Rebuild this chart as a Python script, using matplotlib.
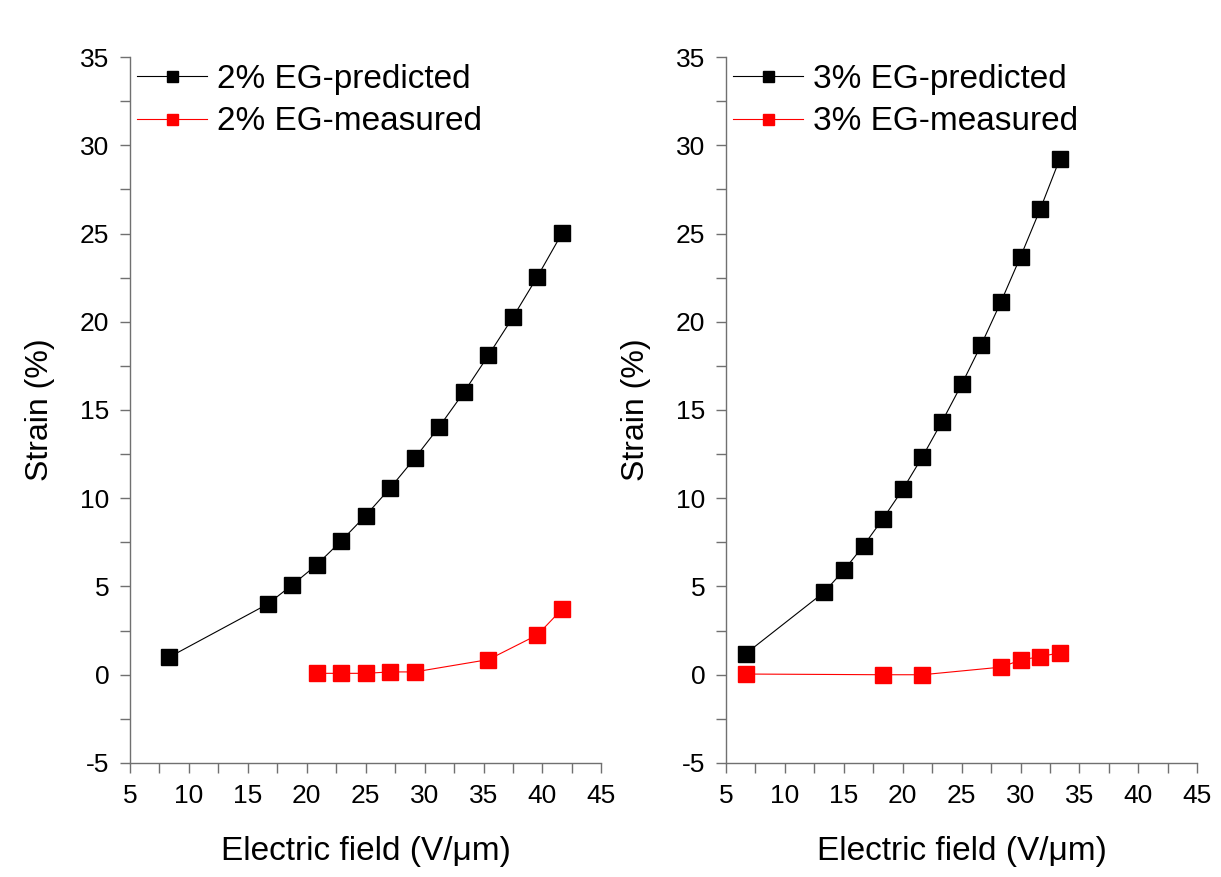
'''
Strain vs electric field: predicted vs measured, 2% and 3% EG
'''
import numpy as np
import matplotlib
matplotlib.use('Agg')
from matplotlib import pyplot as plt
from matplotlib.ticker import MultipleLocator

# 2% EG
x2_pred = [8.33, 16.67, 18.75, 20.83, 22.92, 25.0, 27.08, 29.17, 31.25, 33.33, 35.42, 37.5, 39.58, 41.67]
y2_pred = [1.0, 4.0, 5.08, 6.22, 7.58, 9.02, 10.58, 12.27, 14.06, 16.0, 18.1, 20.26, 22.56, 25.02]
x2_meas = [20.83, 22.92, 25.0, 27.08, 29.17, 35.42, 39.58, 41.67]
y2_meas = [0.08, 0.08, 0.08, 0.16, 0.16, 0.86, 2.26, 3.72]

# 3% EG
x3_pred = [6.67, 13.33, 15.0, 16.67, 18.33, 20.0, 21.67, 23.33, 25.0, 26.67, 28.33, 30.0, 31.67, 33.33]
y3_pred = [1.19, 4.68, 5.92, 7.31, 8.85, 10.5, 12.35, 14.34, 16.45, 18.71, 21.12, 23.69, 26.38, 29.23]
x3_meas = [6.67, 18.33, 21.67, 28.33, 30.0, 31.67, 33.33]
y3_meas = [0.04, 0.0, 0.0, 0.43, 0.83, 1.03, 1.24]

panels = [
    (x2_pred, y2_pred, x2_meas, y2_meas, '2% EG-predicted', '2% EG-measured'),
    (x3_pred, y3_pred, x3_meas, y3_meas, '3% EG-predicted', '3% EG-measured'),
]

plt.rcParams['font.family'] = ['Liberation Sans', 'DejaVu Sans']
plt.rcParams['axes.unicode_minus'] = False

fig = plt.figure(figsize=(12.21, 8.77), dpi=100)
lefts = [0.1065, 0.5946]
spine_col = '#707070'

for left, (xp, yp, xm, ym, lp, lm) in zip(lefts, panels):
    ax = fig.add_axes([left, 0.13, 0.386, 0.805])
    ax.plot(xp, yp, '-', color='black', lw=0.8, marker='s', ms=11,
            mfc='black', mec='black', label=lp)
    ax.plot(xm, ym, '-', color='red', lw=0.8, marker='s', ms=11,
            mfc='red', mec='red', label=lm)
    ax.set_xlim(5, 45)
    ax.set_ylim(-5, 35)
    ax.xaxis.set_major_locator(MultipleLocator(5))
    ax.xaxis.set_minor_locator(MultipleLocator(2.5))
    ax.yaxis.set_major_locator(MultipleLocator(5))
    ax.yaxis.set_minor_locator(MultipleLocator(2.5))
    for s in ['top', 'right']:
        ax.spines[s].set_visible(False)
    for s in ['left', 'bottom']:
        ax.spines[s].set_color(spine_col)
        ax.spines[s].set_linewidth(1.0)
    ax.tick_params(which='both', direction='out', color=spine_col, width=1.0)
    ax.tick_params(which='major', length=7, labelsize=19, pad=8)
    ax.tick_params(which='minor', length=7)
    ax.set_xlabel('Electric field (V/μm)', fontsize=24, labelpad=20)
    ax.set_ylabel('Strain (%)', fontsize=23, labelpad=18)
    ax.legend(loc='upper left', bbox_to_anchor=(0.0, 1.0), frameon=False,
              fontsize=24, handlelength=2.1, handletextpad=0.3, labelspacing=0.35,
              borderaxespad=0, borderpad=0.2, markerscale=0.72)

plt.savefig('out.png', dpi=100)
